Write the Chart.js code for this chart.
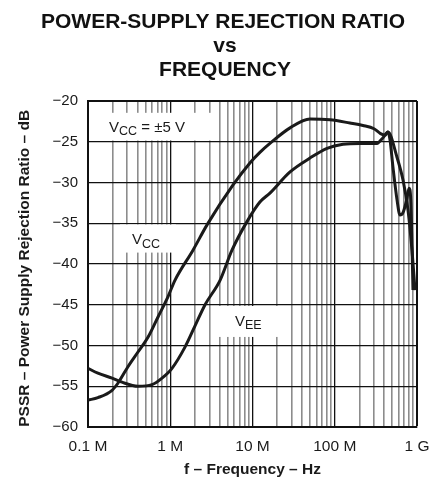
<!DOCTYPE html>
<html>
<head>
<meta charset="utf-8">
<script src="https://cdn.jsdelivr.net/npm/chart.js@4.4.1/dist/chart.umd.min.js"></script>
<style>
  html, body { margin: 0; padding: 0; background: #fff; }
  #wrap { width: 433px; height: 477px; }
</style>
</head>
<body>
<div id="wrap"><canvas id="myChart" width="433" height="477"></canvas></div>
<script>
// frequency (Hz) / PSRR (dB)
const vccFreq = [1e5, 1.32e5, 1.96e5, 2.32e5, 3.06e5, 4.05e5, 5.36e5, 7.1e5, 9.4e5, 1.14e6, 1.89e6, 2.8e6, 5.8e6, 9.3e6, 1.23e7, 1.63e7, 2.86e7, 5.0e7, 8.75e7, 1.53e8, 2.2e8, 3.0e8, 3.6e8, 4.08e8, 4.44e8, 5.71e8, 6.76e8, 7.78e8, 8.69e8, 9.46e8];
const vccDb   = [-56.7, -56.4, -55.5, -54.6, -52.6, -50.8, -49.0, -46.5, -44.0, -42.0, -38.3, -35.2, -30.3, -27.6, -26.3, -25.2, -23.3, -22.2, -22.3, -22.7, -23.0, -23.4, -24.0, -24.2, -23.8, -26.9, -29.7, -33.4, -38.3, -43.2];

const veeFreq = [1e5, 1.32e5, 1.96e5, 2.59e5, 4.05e5, 6.0e5, 7.94e5, 1.05e6, 1.51e6, 2.0e6, 2.65e6, 4.03e6, 5.63e6, 8.57e6, 1.23e7, 1.63e7, 2.86e7, 5.0e7, 8.05e7, 1.26e8, 2.03e8, 3.26e8, 3.86e8, 4.44e8, 4.7e8, 5.1e8, 5.71e8, 6.21e8, 6.76e8, 7.5e8, 8.0e8, 8.4e8, 8.94e8];
const veeDb   = [-52.8, -53.4, -54.0, -54.5, -55.0, -54.8, -54.0, -52.8, -50.2, -47.6, -45.0, -42.0, -38.3, -34.8, -32.4, -31.3, -28.7, -27.0, -25.8, -25.3, -25.2, -25.2, -24.5, -23.8, -24.8, -28.1, -32.1, -34.0, -33.7, -32.1, -30.7, -32.1, -43.2];

// axis ticks
const xDecades = [1e5, 1e6, 1e7, 1e8, 1e9];
const xLabels = ['0.1 M', '1 M', '10 M', '100 M', '1 G'];
const yMin = -60, yMax = -20, yStep = 5;

const FONT = 'Arial, "Liberation Sans", Helvetica, sans-serif';

// text notes on the plot (anchored in data space)
const notes = [
  { box: [1e5, 3.5e6, -21.45, -24.85], at: [1.8e5, -23.8], parts: [['V', 0], ['CC', 1], [' = \u00B15 V', 0]] },
  { box: [2.45e5, 1.17e6, -35.15, -38.6], at: [3.43e5, -37.55], parts: [['V', 0], ['CC', 1]] },
  { box: [3.4e6, 2.4e7, -45.15, -48.95], at: [6.12e6, -47.6], parts: [['V', 0], ['EE', 1]] }
];

const titleLines = ['POWER-SUPPLY REJECTION RATIO', 'vs', 'FREQUENCY'];

function isDecade(v) {
  return xDecades.some(d => Math.abs(v - d) / d < 1e-6);
}

const notesPlugin = {
  id: 'notes',
  beforeDatasetsDraw(chart) {
    const { ctx, chartArea, scales: { x, y } } = chart;
    ctx.save();
    notes.forEach(n => {
      const x0 = Math.max(x.getPixelForValue(n.box[0]), chartArea.left + 1.5);
      const x1 = x.getPixelForValue(n.box[1]);
      const y0 = y.getPixelForValue(n.box[2]);
      const y1 = y.getPixelForValue(n.box[3]);
      ctx.fillStyle = '#fff';
      ctx.fillRect(x0, y0, x1 - x0, y1 - y0);

      let px = x.getPixelForValue(n.at[0]);
      const py = y.getPixelForValue(n.at[1]);
      ctx.fillStyle = '#1a1a1a';
      ctx.textBaseline = 'alphabetic';
      ctx.textAlign = 'left';
      n.parts.forEach(([t, sub]) => {
        ctx.font = (sub ? '12.5px ' : '15px ') + FONT;
        ctx.fillText(t, px, py + (sub ? 3.5 : 0));
        px += ctx.measureText(t).width;
      });
    });
    ctx.restore();
  },
  afterDraw(chart) {
    const { ctx } = chart;
    ctx.save();
    ctx.fillStyle = '#111';
    ctx.font = 'bold 21px ' + FONT;
    ctx.textAlign = 'center';
    ctx.textBaseline = 'alphabetic';
    ctx.fillText(titleLines[0], 223, 27.5);
    ctx.fillText(titleLines[1], 225, 52);
    ctx.fillText(titleLines[2], 225, 76);
    ctx.restore();
  }
};

const ctx = document.getElementById('myChart').getContext('2d');

const myChart = new Chart(ctx, {
  type: 'line',
  data: {
    datasets: [
      {
        label: 'VCC',
        data: vccFreq.map((f, i) => ({ x: f, y: vccDb[i] })),
        borderColor: '#1a1a1a',
        borderWidth: 3,
        pointRadius: 0,
        cubicInterpolationMode: 'monotone',
        fill: false
      },
      {
        label: 'VEE',
        data: veeFreq.map((f, i) => ({ x: f, y: veeDb[i] })),
        borderColor: '#1a1a1a',
        borderWidth: 3,
        pointRadius: 0,
        cubicInterpolationMode: 'monotone',
        fill: false
      }
    ]
  },
  options: {
    responsive: false,
    animation: false,
    devicePixelRatio: 1,
    layout: { padding: { left: 0, top: 101, right: 16, bottom: 0 } },
    plugins: {
      legend: { display: false },
      title: { display: false },
      tooltip: { enabled: false }
    },
    scales: {
      x: {
        type: 'logarithmic',
        min: 1e5,
        max: 1e9,
        afterBuildTicks(scale) {
          const t = [];
          for (let i = 0; i < xDecades.length - 1; i++) {
            for (let k = 1; k <= 9; k++) t.push({ value: xDecades[i] * k });
          }
          t.push({ value: xDecades[xDecades.length - 1] });
          scale.ticks = t;
        },
        afterFit(scale) {
          scale.height = 50;
          scale.paddingLeft = 0;
          scale.paddingRight = 0;
        },
        ticks: {
          autoSkip: false,
          maxRotation: 0,
          padding: 10,
          color: '#1a1a1a',
          font: { family: FONT, size: 15.5 },
          callback(v) {
            const i = xDecades.findIndex(d => Math.abs(v - d) / d < 1e-6);
            return i >= 0 ? xLabels[i] : '';
          }
        },
        grid: {
          drawTicks: false,
          color: c => isDecade(c.tick.value) ? '#111' : '#8c8c8c',
          lineWidth: c => c.tick.value >= 1e9 ? 2 : (isDecade(c.tick.value) ? 1.3 : 1.6)
        },
        border: { display: true, color: '#111', width: 2 },
        title: {
          display: true,
          text: 'f \u2013 Frequency \u2013 Hz',
          color: '#1a1a1a',
          font: { family: FONT, size: 15.5, weight: 'bold', lineHeight: 1 },
          padding: { top: 0, bottom: 0 }
        }
      },
      y: {
        min: yMin,
        max: yMax,
        afterFit(scale) {
          scale.width = 88;
          scale.paddingTop = 0;
          scale.paddingBottom = 0;
        },
        ticks: {
          stepSize: yStep,
          padding: 10,
          color: '#1a1a1a',
          font: { family: FONT, size: 15 },
          callback: v => v < 0 ? '\u2212' + Math.abs(v) : String(v)
        },
        grid: {
          drawTicks: false,
          color: '#111',
          lineWidth: c => c.tick.value >= yMax ? 2 : 1.2
        },
        border: { display: true, color: '#111', width: 2 },
        title: {
          display: true,
          text: 'PSSR \u2013 Power Supply Rejection Ratio \u2013 dB  ',
          color: '#1a1a1a',
          font: { family: FONT, size: 15.5, weight: 'bold', lineHeight: 1.2 },
          padding: { top: 15, bottom: 0 }
        }
      }
    }
  },
  plugins: [notesPlugin]
});
</script>
</body>
</html>
